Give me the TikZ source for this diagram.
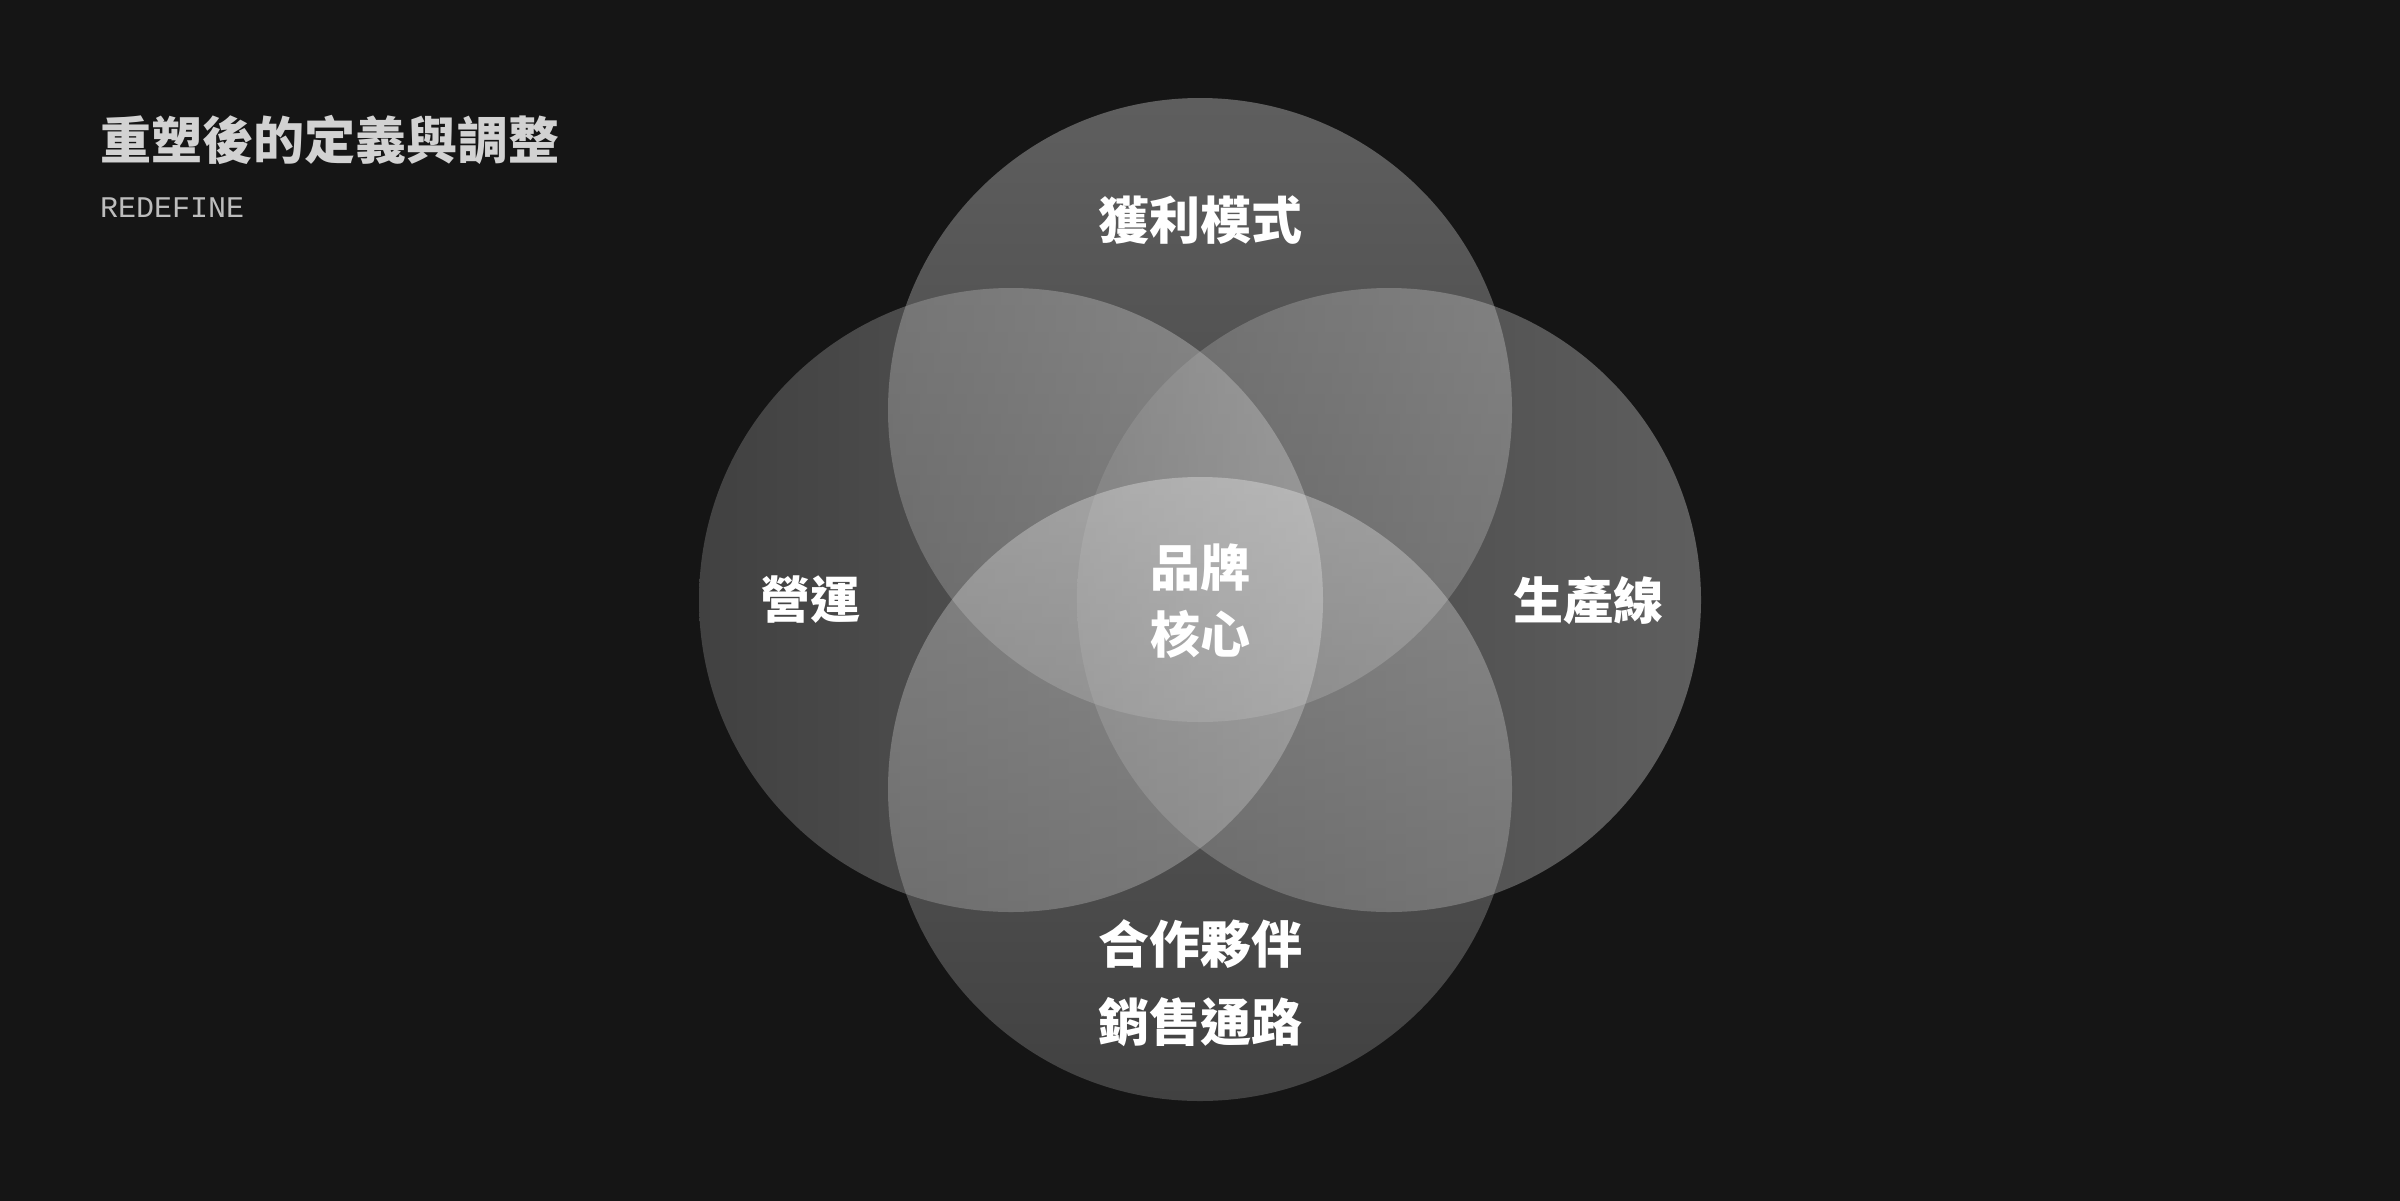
\documentclass[tikz,border=0pt]{standalone}
\usepackage{fontspec}
\newfontfamily\cjk{Noto Sans CJK TC}
\newfontfamily\monofont{Liberation Mono}
\definecolor{bgc}{HTML}{151515}
\definecolor{ringhi}{HTML}{FBFBFB}
\definecolor{ringlo}{HTML}{9F9F9F}
\definecolor{titlec}{HTML}{D2D2D2}
\definecolor{subc}{HTML}{BDBDBD}
\tikzset{
  ring/.style={circle, minimum size=624pt, inner sep=0pt, fill opacity=0.321},
  vring/.style={ring, shade, top color=ringhi, bottom color=ringlo},
  hring/.style={ring, shade, right color=ringhi, left color=ringlo},
  lbl/.style={text=white, font=\cjk\bfseries\fontsize{51}{60}\selectfont, inner sep=0pt, align=center},
}
\begin{document}
\begin{tikzpicture}[x=1pt,y=-1pt]
\useasboundingbox (0,0) rectangle (2400,1200);
\fill[bgc] (-6,-6) rectangle (2406,1206);
% circles
\node[vring] (top) at (1200,410) {};
\node[hring] (left) at (1011,600) {};
\node[hring] (right) at (1389,600) {};
\node[vring] (bottom) at (1200,789) {};
% title
\node[anchor=west, inner sep=0pt, text=titlec, font=\cjk\bfseries\fontsize{51}{60}\selectfont] (title) at (100,140) {重塑後的定義與調整};
\node[anchor=west, inner sep=0pt, text=subc, font=\monofont\fontsize{30}{36}\selectfont] (sub) at (100,208) {REDEFINE};
% labels
\node[lbl] (ltop) at (1200,220) {獲利模式};
\node[lbl, font=\cjk\bfseries\fontsize{50}{60}\selectfont] (lleft) at (810,600) {營運};
\node[lbl, font=\cjk\bfseries\fontsize{50}{60}\selectfont] (lright) at (1588,600) {生產線};
\node[lbl, font=\cjk\bfseries\fontsize{50}{67}\selectfont] (lcenter) at (1200,601) {品牌\\核心};
\node[lbl, font=\cjk\bfseries\fontsize{51}{78}\selectfont] (lbottom) at (1200,983) {合作夥伴\\銷售通路};
\end{tikzpicture}
\end{document}
